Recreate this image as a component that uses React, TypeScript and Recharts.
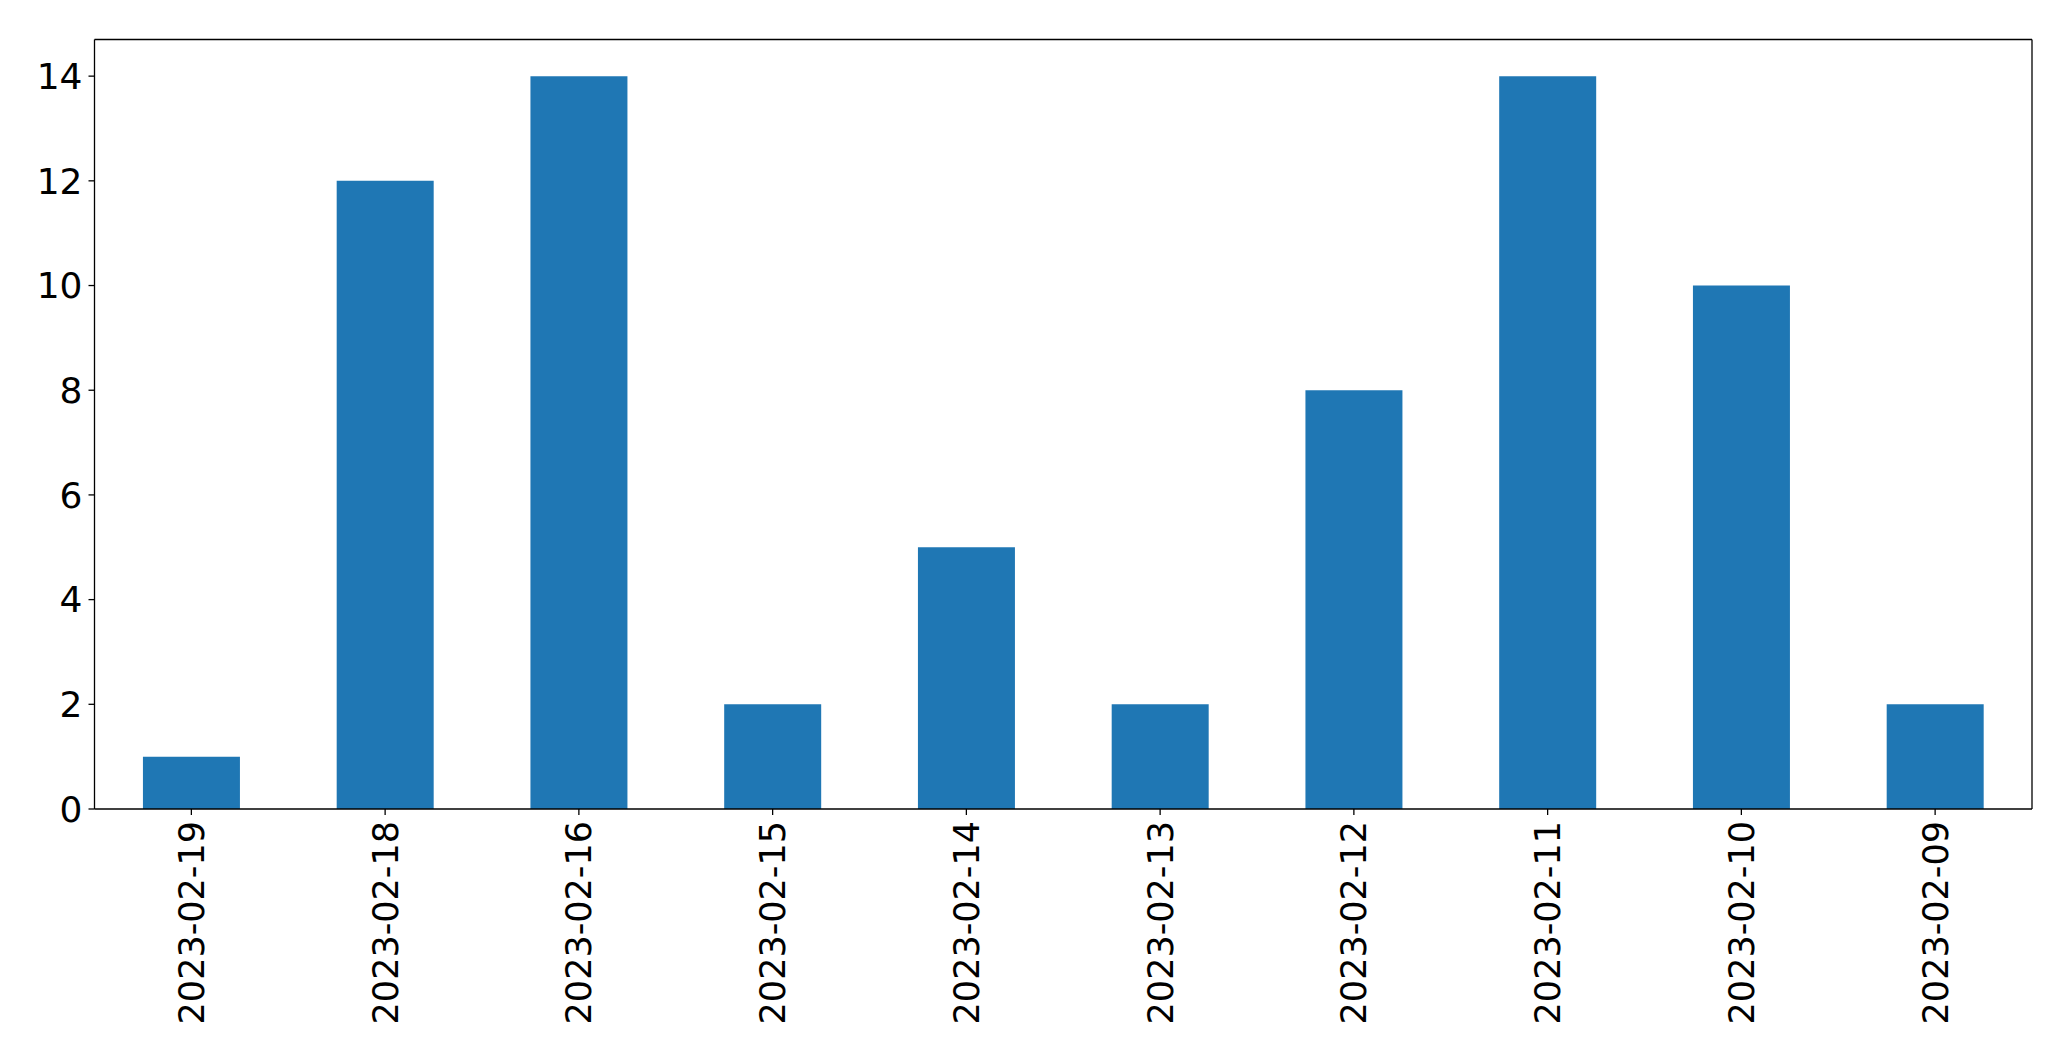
import React from "react";
import { BarChart, Bar, XAxis, YAxis, CartesianGrid } from "recharts";

const dates = [
    "2023-02-19",
    "2023-02-18",
    "2023-02-16",
    "2023-02-15",
    "2023-02-14",
    "2023-02-13",
    "2023-02-12",
    "2023-02-11",
    "2023-02-10",
    "2023-02-09",
];
const counts = [1, 12, 14, 2, 5, 2, 8, 14, 10, 2];
const yTicks = [0, 2, 4, 6, 8, 10, 12, 14];

const data = dates.map((date, i) => ({ date, count: counts[i] }));

const FONT = "'DejaVu Sans', sans-serif";

const DateTick = (props: any) => {
    const { x, y, payload } = props;
    return (
        <g transform={`translate(${x},${y})`}>
            <text
                transform="rotate(-90)"
                textAnchor="end"
                dy="0.36em"
                fontSize={35}
                fontFamily={FONT}
                fill="#000"
            >
                {payload.value}
            </text>
        </g>
    );
};

// top and right edges of the frame, taken from the plot offset
const topEdge = ({ offset }: any) => [offset.top];
const rightEdge = ({ offset }: any) => [offset.left + offset.width];

const App: React.FC = () => {
    return (
        <div style={{ position: "absolute", left: 0, top: 0, background: "#fff" }}>
            <BarChart
                width={2071}
                height={1061}
                data={data}
                margin={{ top: 39.5, right: 39, left: 0, bottom: 0 }}
                barCategoryGap="25%"
            >
                <CartesianGrid
                    stroke="#000"
                    strokeWidth={1.3}
                    horizontalCoordinatesGenerator={topEdge}
                    verticalCoordinatesGenerator={rightEdge}
                />
                <XAxis
                    dataKey="date"
                    height={252}
                    interval={0}
                    tick={<DateTick />}
                    tickSize={6}
                    tickMargin={6}
                    axisLine={{ stroke: "#000", strokeWidth: 1.3 }}
                    tickLine={{ stroke: "#000", strokeWidth: 1.3 }}
                    padding={{ left: 0, right: 0 }}
                />
                <YAxis
                    width={94.5}
                    domain={[0, 14.7]}
                    ticks={yTicks}
                    interval={0}
                    tickSize={6}
                    tickMargin={6}
                    tick={{ fontSize: 36, fontFamily: FONT, fill: "#000" }}
                    axisLine={{ stroke: "#000", strokeWidth: 1.3 }}
                    tickLine={{ stroke: "#000", strokeWidth: 1.3 }}
                    allowDataOverflow
                />
                <Bar dataKey="count" fill="#1f77b4" isAnimationActive={false} />
            </BarChart>
        </div>
    );
};

export default App;
